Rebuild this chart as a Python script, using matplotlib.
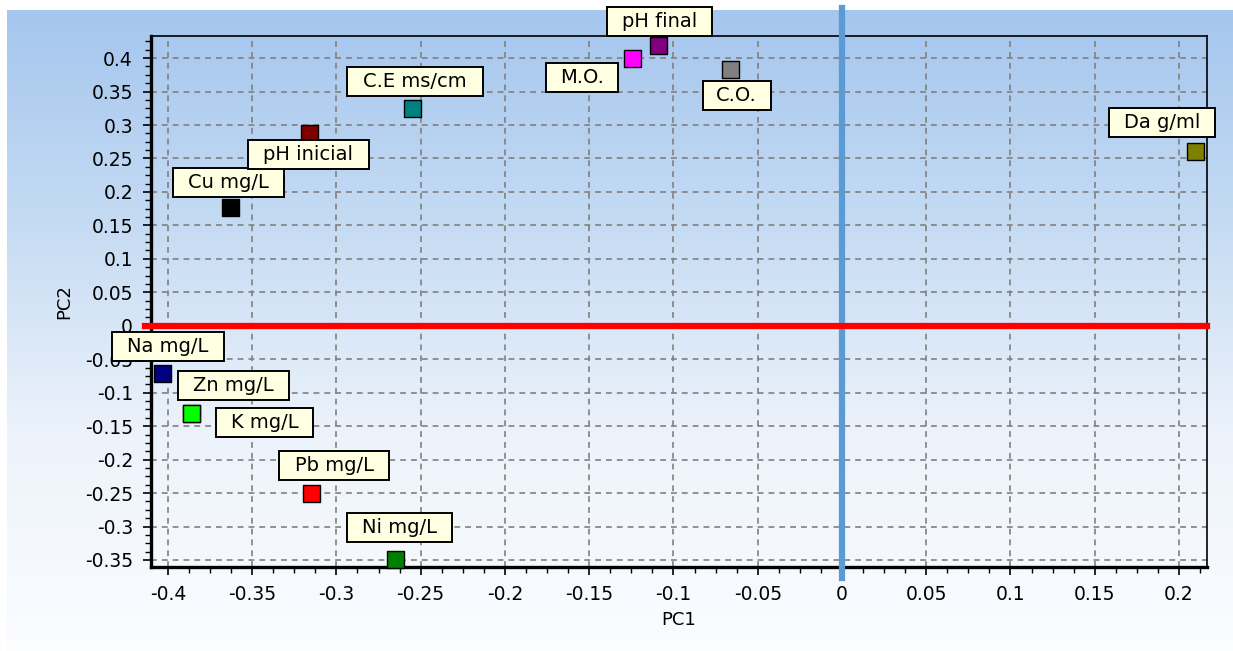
import numpy as np
import matplotlib
matplotlib.use('Agg')
import matplotlib.pyplot as plt
from matplotlib.colors import LinearSegmentedColormap
from matplotlib.patches import Rectangle
from matplotlib.ticker import MultipleLocator, AutoMinorLocator, FormatStrFormatter

plt.rcParams['font.family'] = ['DejaVu Sans']
plt.rcParams['axes.unicode_minus'] = False

# PCA loadings
variables = ['Cu mg/L', 'pH inicial', 'C.E ms/cm', 'M.O.', 'pH final', 'C.O.',
             'Da g/ml', 'Na mg/L', 'Zn mg/L', 'K mg/L', 'Pb mg/L', 'Ni mg/L']
pc1 = [-0.363, -0.316, -0.255, -0.124, -0.109, -0.066,
       0.210, -0.403, -0.386, -0.386, -0.315, -0.265]
pc2 = [0.176, 0.287, 0.324, 0.400, 0.419, 0.383,
       0.260, -0.072, -0.131, -0.131, -0.251, -0.349]
colors = ['#000000', '#800000', '#008080', '#FF00FF', '#800080', '#808080',
          '#808000', '#000080', '#00FF00', '#00FF00', '#FF0000', '#008000']

# label offsets in pixels (x right, y up)
offsets = [(-2, 25), (-1, -21), (3, 27), (-51, -19), (1, 24), (6, -26),
           (-34, 29), (5, 27), (42, 28), (73, -9), (23, 28), (4, 32)]

fig = plt.figure(figsize=(12.33, 6.51), dpi=100)
fig.patch.set_facecolor('white')

# gradient panel behind everything
bg = fig.add_axes([7 / 1233, 0, 1 - 7 / 1233, 1 - 10 / 651])
cmap = LinearSegmentedColormap.from_list('bg', ['#A5C6EE', '#C5DBF3', '#EDF3FB', '#FBFDFF'])
grad = np.linspace(0, 1, 256).reshape(-1, 1)
bg.imshow(grad, aspect='auto', cmap=cmap, extent=[0, 1, 0, 1], origin='upper')
bg.set_axis_off()

ax = fig.add_axes([151 / 1233, 1 - 567 / 651, (1207 - 151) / 1233, (567 - 36) / 651])
ax.set_facecolor('none')
ax.set_xlim(-0.410, 0.2166)
ax.set_ylim(-0.3605, 0.433)

ax.xaxis.set_major_locator(MultipleLocator(0.05))
ax.yaxis.set_major_locator(MultipleLocator(0.05))
ax.xaxis.set_minor_locator(AutoMinorLocator(4))
ax.yaxis.set_minor_locator(AutoMinorLocator(4))
ax.xaxis.set_major_formatter(FormatStrFormatter('%g'))
ax.yaxis.set_major_formatter(FormatStrFormatter('%g'))
ax.tick_params(which='major', direction='out', length=6, width=1.2, labelsize=13.5, pad=7)
ax.tick_params(which='minor', direction='out', length=4, width=1)

for side in ['left', 'bottom']:
    ax.spines[side].set_linewidth(2.4)
for side in ['top', 'right']:
    ax.spines[side].set_linewidth(1.2)

ax.grid(True, which='major', color='#808080', linestyle=(0, (3.5, 3)), linewidth=1.2)
ax.set_axisbelow(True)

ax.axvline(0, ymin=-0.021, ymax=1.053, color='#5B9BD5', linewidth=4.5, clip_on=False, zorder=3)
ax.axhline(0, xmin=-0.006, xmax=1.0, color='#FF0000', linewidth=4.5, clip_on=False, zorder=3.5)

ax.scatter(pc1, pc2, s=150, marker='s', c=colors, edgecolors='black', linewidths=1.0,
           zorder=4, clip_on=False)

ax.set_xlabel('PC1', fontsize=13, labelpad=5)
ax.set_ylabel('PC2', fontsize=13, labelpad=8)

labels = []
for name, x, y, off in zip(variables, pc1, pc2, offsets):
    t = ax.annotate(name, (x, y), xytext=off, textcoords='offset pixels',
                    ha='center', va='center', fontsize=14, zorder=7,
                    annotation_clip=False)
    labels.append(t)

fig.canvas.draw()
for t in labels:
    bb = t.get_window_extent()
    px = 0.04 * bb.width + 12
    py = 5
    box = Rectangle((bb.x0 - px, bb.y0 - py), bb.width + 2 * px, bb.height + 2 * py,
                    transform=None, facecolor='#FFFFE1', edgecolor='black',
                    linewidth=1.4, zorder=6, clip_on=False)
    ax.add_artist(box)

fig.savefig('out.png', dpi=100)
